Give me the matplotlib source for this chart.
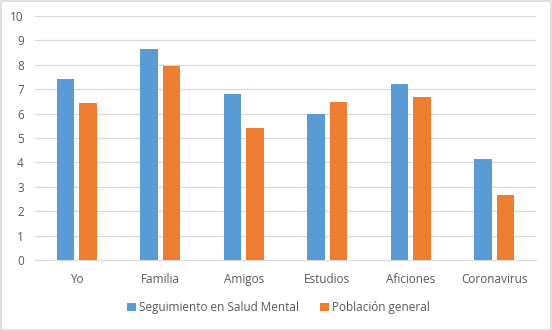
import matplotlib.pyplot as plt
import numpy as np

# Data
categories = ['Yo', 'Familia', 'Amigos', 'Estudios', 'Aficiones', 'Coronavirus']
salud_mental = [7.4, 8.63, 6.8, 6.0, 7.22, 4.15]
poblacion = [6.42, 7.97, 5.4, 6.47, 6.66, 2.65]
series_names = ['Seguimiento en Salud Mental', 'Población general']

blue = '#5B9BD5'
orange = '#ED7D31'
text_gray = '#595959'
grid_gray = '#D9D9D9'

plt.rcParams['font.family'] = ['Open Sans', 'DejaVu Sans']

fig = plt.figure(figsize=(5.52, 3.31), dpi=100)
ax = fig.add_axes([0.0634, 0.2145, 0.9076, 0.7372])

x = np.arange(len(categories))
w = 0.212
off = 0.136
ax.bar(x - off, salud_mental, width=w, color=blue, label=series_names[0], zorder=3)
ax.bar(x + off, poblacion, width=w, color=orange, label=series_names[1], zorder=3)

ax.set_xlim(-0.5, len(categories) - 0.5)
ax.set_ylim(0, 10)
ax.set_yticks(range(0, 11))
ax.set_xticks(x)
ax.set_xticklabels(categories)
ax.tick_params(axis='both', length=0, colors=text_gray, labelsize=8.5)
ax.tick_params(axis='x', pad=9)
ax.tick_params(axis='y', pad=8)
ax.grid(axis='y', color=grid_gray, linewidth=0.9, zorder=0)
for side in ['top', 'right', 'left']:
    ax.spines[side].set_visible(False)
ax.spines['bottom'].set_color(grid_gray)

leg = fig.legend(loc='center', bbox_to_anchor=(0.505, 0.07), ncol=2, frameon=False,
                 fontsize=8.5, handlelength=0.7, handleheight=0.7, handletextpad=0.3,
                 columnspacing=1.8)
for t in leg.get_texts():
    t.set_color(text_gray)

# light border around the chart
fig.patches.append(plt.Rectangle((0.001, 0.003), 0.997, 0.994, transform=fig.transFigure,
                                 fill=False, edgecolor=grid_gray, linewidth=1.2))

fig.savefig('out.png', dpi=100)
